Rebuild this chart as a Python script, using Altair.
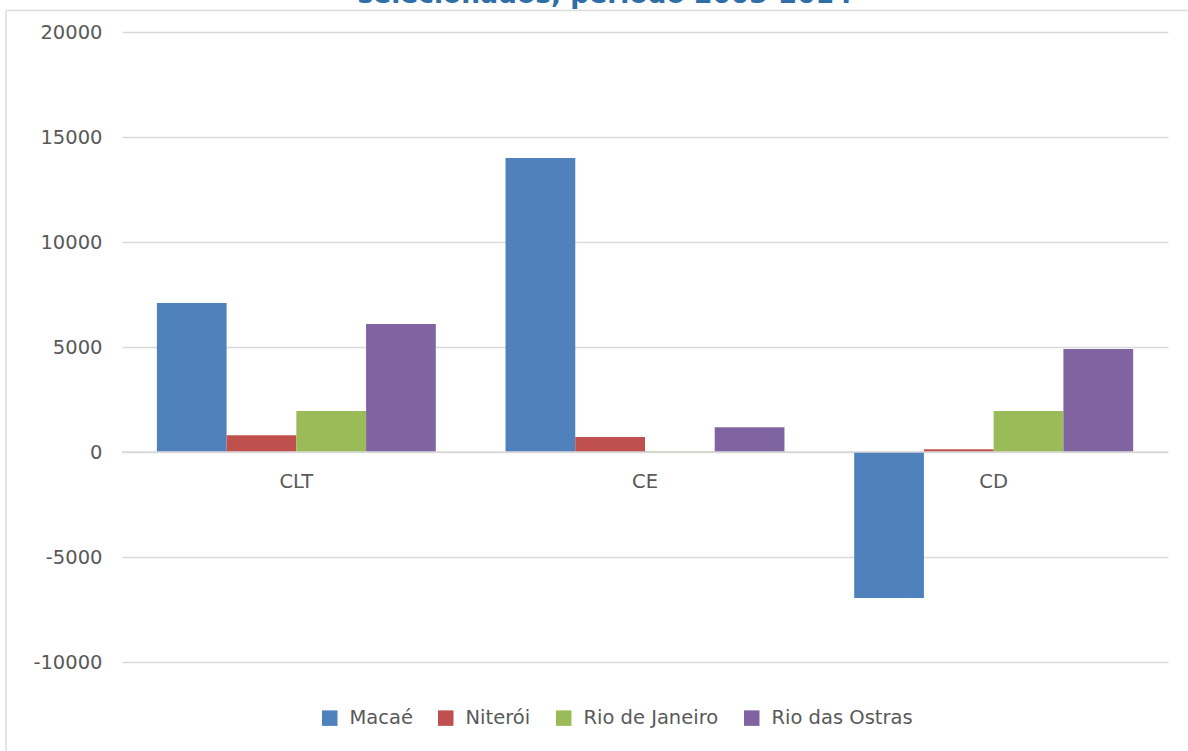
import altair as alt
import pandas as pd

categories = ["CLT", "CE", "CD"]
series = ["Macaé", "Niterói", "Rio de Janeiro", "Rio das Ostras"]
colors = ["#4F81BD", "#C0504D", "#9BBB59", "#8064A2"]
values = {
    "Macaé": [7100, 14000, -6950],
    "Niterói": [800, 710, 130],
    "Rio de Janeiro": [1950, 40, 1950],
    "Rio das Ostras": [6100, 1180, 4900],
}
y_ticks = [-10000, -5000, 0, 5000, 10000, 15000, 20000]
title_text = "selecionados, período 2003-2014"

rows = []
for s in series:
    for c, v in zip(categories, values[s]):
        rows.append({"cat": c, "series": s, "value": v})
df = pd.DataFrame(rows)
cat_df = pd.DataFrame({"cat": categories})

FONT = "DejaVu Sans"
GRAY = "#595959"
FS = 19.5

xscale = alt.Scale(domain=categories, paddingInner=0.2, paddingOuter=0.1)
yscale = alt.Scale(domain=[-10000, 20000], nice=False)

bars = alt.Chart(df).mark_bar().encode(
    x=alt.X("cat:N", scale=xscale, axis=None, sort=categories),
    xOffset=alt.XOffset("series:N", sort=series, scale=alt.Scale(paddingInner=0)),
    y=alt.Y("value:Q", scale=yscale,
            axis=alt.Axis(values=y_ticks, title=None, domain=False, ticks=False,
                          labelExpr="'' + datum.value",
                          labelPadding=20, labelFont=FONT, labelFontSize=FS,
                          labelColor=GRAY, gridColor="#d9d9d9", gridWidth=1.5)),
    color=alt.Color("series:N", sort=series,
                    scale=alt.Scale(domain=series, range=colors),
                    legend=alt.Legend(title=None, orient="none", direction="horizontal",
                                      legendX=198, legendY=676,
                                      symbolType="square", symbolSize=240,
                                      symbolStrokeWidth=0,
                                      labelFont=FONT, labelFontSize=FS, labelColor=GRAY,
                                      columnPadding=23, labelOffset=10)),
)

zero_line = alt.Chart(pd.DataFrame({"v": [0]})).mark_rule(color="#d9d9d9", strokeWidth=1.5).encode(
    y=alt.Y("v:Q", scale=yscale)
)

cat_labels = alt.Chart(cat_df).mark_text(
    font=FONT, fontSize=FS, color=GRAY, dy=30
).encode(
    x=alt.X("cat:N", scale=xscale, sort=categories),
    y=alt.YDatum(0),
    text="cat:N",
)

title = alt.Chart(pd.DataFrame({"t": [title_text]})).mark_text(
    font=FONT, fontSize=26.5, fontWeight="bold", color="#2F6FA8",
    baseline="alphabetic", align="center"
).encode(
    x=alt.value(483), y=alt.value(-29), text="t:N"
)

border_top = alt.Chart(pd.DataFrame({"a": [0]})).mark_rule(color="#dcdcdc", strokeWidth=1.5).encode(
    x=alt.value(-116), x2=alt.value(1066), y=alt.value(-21.5)
)
border_left = alt.Chart(pd.DataFrame({"a": [0]})).mark_rule(color="#dcdcdc", strokeWidth=1.5).encode(
    x=alt.value(-116), y=alt.value(-21.5), y2=alt.value(730)
)

chart = alt.layer(bars, zero_line, cat_labels, title, border_top, border_left).properties(
    width=1046, height=630,
    padding={"left": 122, "top": 32, "right": 20, "bottom": 89},
    autosize=alt.AutoSizeParams(type="none"),
    background="white",
).configure_view(stroke=None)

chart.save("out.html", embed_options={"renderer": "svg", "actions": False})
